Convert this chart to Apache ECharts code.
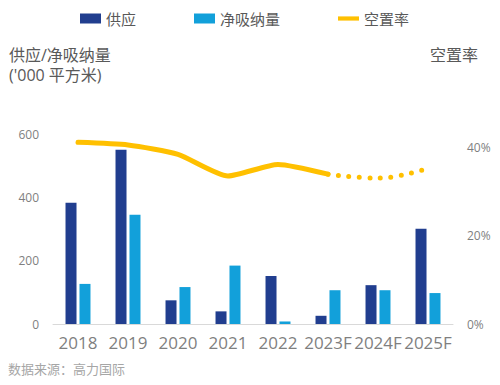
<!DOCTYPE html>
<html><head><meta charset="utf-8">
<script src="https://cdn.jsdelivr.net/npm/echarts@6/dist/echarts.min.js"></script>
<style>html,body{margin:0;padding:0;background:#fff}#c{width:500px;height:385px}</style>
</head><body><div id="c"></div>
<script>
var categories = ['2018','2019','2020','2021','2022','2023F','2024F','2025F'];
var supply = [384, 552, 75, 40, 152, 26, 123, 302];
var absorption = [127, 346, 117, 185, 8, 107, 107, 98];
var vacancyActual = [41.1, 40.5, 38.4, 33.5, 36.1, 33.9, null, null];
var vacancyForecast = [null, null, null, null, null, 33.9, 33.0, 35.2];
var leftTicks = [0, 200, 400, 600];
var rightTicks = [0, 20, 40];

var chart = echarts.init(document.getElementById('c'), null, {renderer: 'svg'});
var FONT = '"Open Sans", "Noto Sans CJK SC", sans-serif';
chart.setOption({
  animation: false,
  textStyle: {fontFamily: FONT},
  legend: {
    top: 6, left: 75, itemGap: 58, itemWidth: 21, itemHeight: 10,
    textStyle: {color: '#595959', fontSize: 15, fontFamily: FONT},
    data: [
      {name: '供应', icon: 'rect'},
      {name: '净吸纳量', icon: 'rect'},
      {name: '空置率', icon: 'path://M0,0 L25,0 L25,5 L0,5 Z', itemStyle: {color: '#FFC000'}}
    ]
  },
  grid: {left: 53, right: 47, top: 103, bottom: 61},
  graphic: [
    {type: 'text', left: 9, top: 47, style: {text: '供应/净吸纳量', font: '16px ' + FONT, fill: '#595959'}},
    {type: 'text', left: 9, top: 67, style: {text: "('000 平方米)", font: '16px ' + FONT, fill: '#595959'}},
    {type: 'text', right: 22, top: 47, style: {text: '空置率', font: '16px ' + FONT, fill: '#595959'}},
    {type: 'text', left: 8, top: 362, style: {text: '数据来源：高力国际', font: '13px ' + FONT, fill: '#a6a6a6'}}
  ],
  xAxis: {
    type: 'category', data: categories,
    axisTick: {show: false},
    axisLine: {lineStyle: {color: '#d9d9d9', width: 1}},
    axisLabel: {color: '#7f7f7f', fontSize: 17, margin: 10, interval: 0, fontFamily: FONT}
  },
  yAxis: [
    {type: 'value', min: 0, max: 700, interval: 200,
     splitLine: {show: false}, axisLine: {show: false}, axisTick: {show: false},
     axisLabel: {color: '#7f7f7f', fontSize: 12, margin: 14, showMaxLabel: false,
       formatter: function(v){ return leftTicks.indexOf(v) >= 0 ? String(v) : ''; }}},
    {type: 'value', min: 0, max: 50, interval: 20,
     splitLine: {show: false}, axisLine: {show: false}, axisTick: {show: false},
     axisLabel: {color: '#7f7f7f', fontSize: 12, margin: 14, showMaxLabel: false,
       formatter: function(v){ return rightTicks.indexOf(v) >= 0 ? v + '%' : ''; }}}
  ],
  series: [
    {name: '供应', type: 'bar', data: supply, barWidth: 11, barGap: '27%',
     itemStyle: {color: '#213E8F'}},
    {name: '净吸纳量', type: 'bar', data: absorption, barWidth: 11,
     itemStyle: {color: '#12A0DA'}},
    {name: '空置率', type: 'line', yAxisIndex: 1, data: vacancyActual, smooth: 0.2,
     symbol: 'none', connectNulls: false, color: '#FFC000',
     lineStyle: {color: '#FFC000', width: 5, cap: 'round', join: 'round'}},
    {name: '空置率预测', type: 'line', yAxisIndex: 1, data: vacancyForecast, smooth: 0.4,
     symbol: 'none', color: '#FFC000',
     lineStyle: {color: '#FFC000', width: 5, type: [0, 10.5], cap: 'round'}}
  ]
});
</script></body></html>
